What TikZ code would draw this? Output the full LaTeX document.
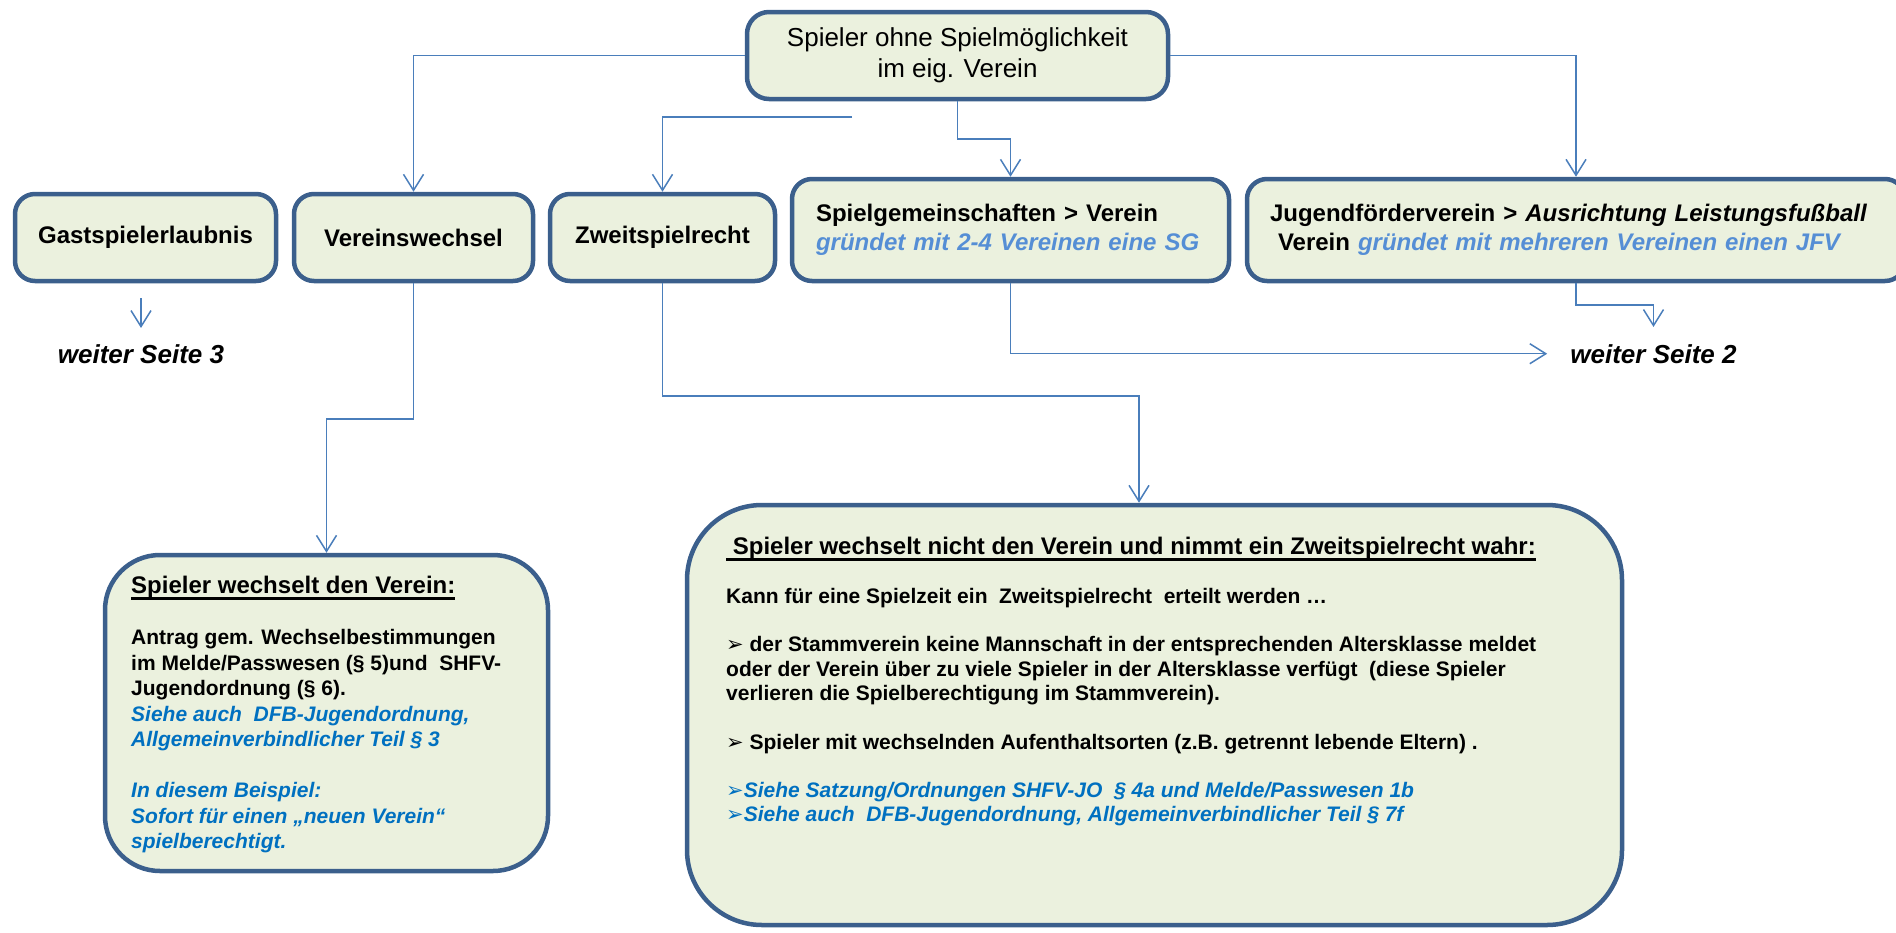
\documentclass[tikz,border=0pt]{standalone}
\usepackage{fontspec}
\setmainfont{Liberation Sans}
\newfontfamily\pfeilfont{DejaVu Sans}
\usepackage{tikz}
\usetikzlibrary{arrows.meta}

\definecolor{kastenfill}{HTML}{EBF1DE}
\definecolor{kastenrand}{HTML}{3B5F8C}
\definecolor{linie}{HTML}{4A7EBB}
\definecolor{hellblau}{HTML}{558ED5}
\definecolor{dunkelblau}{HTML}{0070C0}

\newcommand{\unterstr}[1]{\setbox0\hbox{#1}\rlap{\rule[-6pt]{\wd0}{2.5pt}}\box0}
\newcommand{\pf}{{\pfeilfont ➢}}

\begin{document}
\begin{tikzpicture}[x=1pt,y=-1pt,
    kasten/.style={draw=kastenrand, line width=4.5pt, fill=kastenfill, rounded corners=20pt, inner sep=0pt},
    conn/.style={draw=linie, line width=1.5pt, -{Straight Barb[length=16pt,width=20pt]}},
    fett/.style={font=\fontsize{24}{29.5}\selectfont\bfseries},
    weiter/.style={font=\fontsize{26}{31}\selectfont\bfseries\itshape, anchor=base, inner sep=4pt}]
        \clip (0,0) rectangle (1896,932);

        \node[kasten, rounded corners=22pt, minimum width=421pt, minimum height=87pt, align=center, font=\fontsize{26}{31}\selectfont] (start) at (957.5,55.5) {Spieler ohne Spielmöglichkeit\\im eig. Verein};

        \node[kasten, fett, minimum width=261pt, minimum height=87pt] (gast) at (145.5,237.5) {Gastspielerlaubnis};
        \node[kasten, fett, minimum width=239pt, minimum height=87pt] (wechsel) at (413.5,237.5) {Vereinswechsel};
        \node[kasten, fett, minimum width=225pt, minimum height=87pt] (zweit) at (662.5,237.5) {Zweitspielrecht};
        \node[kasten, fett, minimum width=437pt, minimum height=102pt, text width=389pt, align=left] (sg) at (1010.5,230) {Spielgemeinschaften > Verein\\\textcolor{hellblau}{\itshape gründet mit 2-4 Vereinen eine SG}};
        \node[kasten, fett, minimum width=658pt, minimum height=102pt, text width=612pt, align=left] (jfv) at (1576,230) {Jugendförderverein > \textit{Ausrichtung Leistungsfußball}\\\ Verein \textcolor{hellblau}{\itshape gründet mit mehreren Vereinen einen JFV}};

        \node[weiter] (s3) at (141,363) {weiter Seite 3};
        \node[weiter] (s2) at (1653.5,363) {weiter Seite 2};

        \node[kasten, rounded corners=55pt, minimum width=443pt, minimum height=316pt] (wbox) at (326.5,713) {};
        \node[anchor=north west, inner sep=0pt, align=left, font=\fontsize{21}{25.5}\selectfont\bfseries] (wtext) at (131,576) {{\fontsize{24}{25.5}\selectfont\unterstr{Spieler wechselt den Verein:}}\\[25.5pt]
            Antrag gem. Wechselbestimmungen\\
            im Melde/Passwesen (§ 5)und\ \ SHFV-\\
            Jugendordnung (§ 6).\\
            \textcolor{dunkelblau}{\itshape Siehe auch\ \ DFB-Jugendordnung,}\\
            \textcolor{dunkelblau}{\itshape Allgemeinverbindlicher Teil § 3}\\[25.5pt]
            \textcolor{dunkelblau}{\itshape In diesem Beispiel:}\\
            \textcolor{dunkelblau}{\itshape Sofort für einen „neuen Verein“}\\
            \textcolor{dunkelblau}{\itshape spielberechtigt.}};

        \node[kasten, rounded corners=75pt, minimum width=935pt, minimum height=420pt] (zbox) at (1154.5,715) {};
        \node[anchor=north west, inner sep=0pt, align=left, font=\fontsize{21}{24.3}\selectfont\bfseries] (ztext) at (726,537) {{\fontsize{24}{24.3}\selectfont\unterstr{\ Spieler wechselt nicht den Verein und nimmt ein Zweitspielrecht wahr:}}\\[24.3pt]
            Kann für eine Spielzeit ein\ \ Zweitspielrecht\ \ erteilt werden …\\[24.3pt]
            \pf\ der Stammverein keine Mannschaft in der entsprechenden Altersklasse meldet\\
            oder der Verein über zu viele Spieler in der Altersklasse verfügt\ \ (diese Spieler\\
            verlieren die Spielberechtigung im Stammverein).\\[24.3pt]
            \pf\ Spieler mit wechselnden Aufenthaltsorten (z.B. getrennt lebende Eltern) .\\[24.3pt]
            \textcolor{dunkelblau}{\itshape\pf Siehe Satzung/Ordnungen SHFV-JO\ \ § 4a und Melde/Passwesen 1b}\\
            \textcolor{dunkelblau}{\itshape\pf Siehe auch\ \ DFB-Jugendordnung, Allgemeinverbindlicher Teil § 7f}};

        \coordinate (mknick) at (984,139);
        \coordinate (zanfang) at (852,117);
        \coordinate (wknick) at (368,419);
        \coordinate (zknick) at (1139,396);
        \coordinate (jknick) at (1615,305);

        \draw[conn] (start.west) -| (wechsel.north);
        \draw[conn] (start.east) -| (jfv.north);
        \draw[conn] (start.south) |- (mknick) -| (sg.north);
        \draw[conn] (zanfang) -| (zweit.north);
        \draw[conn, shorten <=15pt, shorten >=12pt] (gast.south -| s3.north) -- (s3.north);
        \draw[conn] (wechsel.south) |- (wknick) -| (wbox.north);
        \draw[conn] (zweit.south) |- (zknick) -- (zknick |- zbox.north);
        \draw[conn, shorten >=19pt] (sg.south) |- (s2.west);
        \draw[conn, shorten >=13pt] (jfv.south) |- (jknick) -| (s2.north);
    \end{tikzpicture}
\end{document}
